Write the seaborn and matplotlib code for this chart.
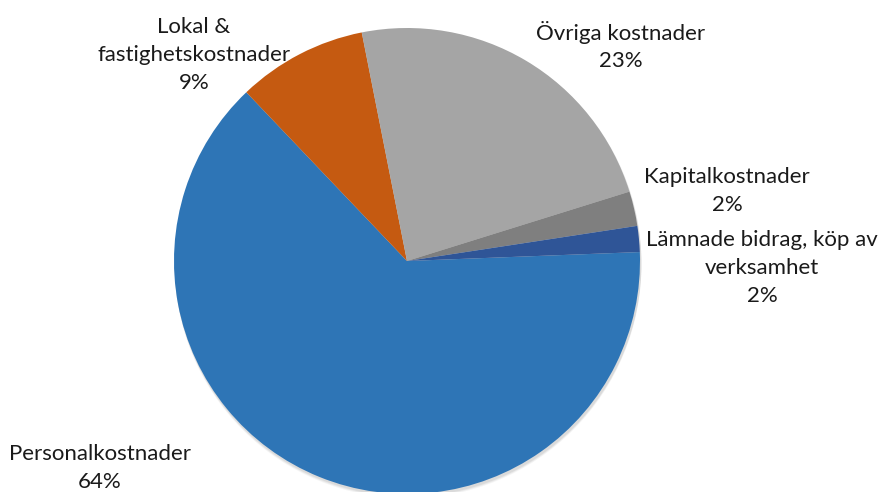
import matplotlib
matplotlib.use("Agg")
import matplotlib.pyplot as plt
import seaborn as sns
import numpy as np

# ---- data ----
categories = ["Personalkostnader", "Lokal &\nfastighetskostnader", "Övriga kostnader",
              "Kapitalkostnader", "Lämnade bidrag, köp av\nverksamhet"]
values = [63.5, 9.0, 23.3, 2.4, 1.8]
colors = ["#2E75B6", "#C55A11", "#A5A5A5", "#7F7F7F", "#2F5597"]

# label layout (pixel positions of label block centres, top-origin)
label_pos = [(100, 468), (194, 55), (621, 46), (727, 191), (762, 268)]

sns.set_theme(style="white")
plt.rcParams['font.family'] = ['Lato', 'DejaVu Sans']

W, H = 886, 492
fig = plt.figure(figsize=(W / 100, H / 100), dpi=100)
ax = fig.add_axes([0, 0, 1, 1])
ax.set_xlim(0, W)
ax.set_ylim(0, H)
ax.set_aspect("equal")
ax.axis("off")

cx, cy, r = 407, H - 261, 233

# soft shadow
for i, a in enumerate([0.06, 0.05, 0.04]):
    sh = plt.Circle((cx + 1, cy - 2 - i), r + 0.5, color="black", alpha=a, lw=0, zorder=0)
    ax.add_patch(sh)

ax.pie(values, colors=colors, startangle=2.2, counterclock=False,
       center=(cx, cy), radius=r, frame=True,
       wedgeprops=dict(linewidth=0, edgecolor="none"))
ax.set_xlim(0, W)
ax.set_ylim(0, H)
ax.axis("off")

total = sum(values)
for cat, v, (x, y) in zip(categories, values, label_pos):
    txt = f"{cat}\n{round(v / total * 100):.0f}%"
    ax.text(x, H - y, txt, ha="center", va="center", fontsize=16,
            color="#1a1a1a", linespacing=1.48, zorder=5)

fig.savefig("out.png", dpi=100)
